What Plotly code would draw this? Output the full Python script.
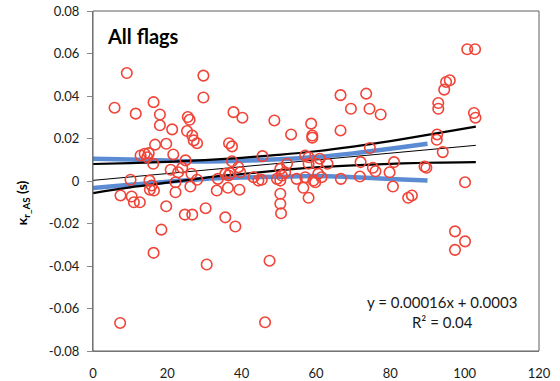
import plotly.graph_objects as go

# Observations: x value and kappa_r_AS (s)
obs_x = [
    5.8, 9.1, 16.3, 29.7, 29.7,
    100.7, 102.8, 95.0, 96.0, 94.5, 92.9, 92.9, 66.6, 73.5, 69.4, 74.4, 77.4,
    102.5, 102.9, 58.7, 59.0, 59.0, 53.3, 66.6,
    11.5, 18.0, 25.5, 26.0, 18.0, 21.3, 25.3, 26.7, 27.1, 28.0, 16.7, 19.7,
    13.9, 12.8, 15.0, 14.6, 21.6, 16.2, 24.9, 20.9, 24.0, 22.9, 26.5, 28.0,
    10.1, 15.2, 15.8, 15.3, 16.4, 22.2, 26.2, 22.2, 7.4, 10.4, 11.0, 12.6,
    19.7, 24.7, 26.7, 30.3, 18.4,
    37.8, 40.2, 48.8, 36.6, 37.4, 45.6, 37.4, 39.1, 36.9, 39.6, 35.6, 33.6,
    36.5, 43.2, 45.4, 44.5, 52.2, 50.4, 50.8, 49.5, 51.7, 54.8, 57.1, 59.3,
    60.6, 58.0, 60.2, 58.0, 57.1, 33.3, 36.3, 39.4, 50.4, 50.4, 50.4, 50.6,
    35.6, 38.3, 56.6, 58.0, 59.8,
    74.5, 72.0, 63.1, 61.0, 75.3, 76.0, 81.0, 79.8, 71.8, 66.7, 80.7, 89.2,
    89.7, 61.5,
    92.6, 92.5, 94.1, 100.1,
    16.3, 30.6, 47.5, 7.3, 46.3, 97.4, 100.1, 97.4, 84.8, 85.8,
]
obs_y = [
    0.0345, 0.0508, 0.0371, 0.0496, 0.0393,
    0.0620, 0.0620, 0.0466, 0.0474, 0.0430, 0.0367, 0.0340, 0.0404, 0.0411, 0.0340, 0.0340, 0.0313,
    0.0320, 0.0298, 0.0270, 0.0214, 0.0204, 0.0219, 0.0238,
    0.0317, 0.0313, 0.0301, 0.0288, 0.0262, 0.0243, 0.0235, 0.0214, 0.0191, 0.0178, 0.0171, 0.0175,
    0.0128, 0.0120, 0.0131, 0.0112, 0.0125, 0.0081, 0.0097, 0.0053, 0.0062, 0.0041, 0.0034, 0.0006,
    0.0006, 0.0002, -0.0021, -0.0041, -0.0045, -0.0006, -0.0026, -0.0053, -0.0068, -0.0073, -0.0100, -0.0100,
    -0.0119, -0.0158, -0.0158, -0.0128, -0.0229,
    0.0324, 0.0298, 0.0285, 0.0178, 0.0163, 0.0117, 0.0093, 0.0065, 0.0037, 0.0041, 0.0034, 0.0010,
    0.0026, 0.0018, 0.0006, 0.0002, 0.0081, 0.0057, 0.0026, 0.0010, 0.0041, 0.0010, 0.0018, 0.0002,
    0.0034, 0.0081, 0.0081, 0.0112, 0.0120, -0.0045, -0.0032, -0.0041, 0.0002, -0.0060, -0.0107, -0.0152,
    -0.0171, -0.0214, -0.0032, -0.0079, -0.0006,
    0.0155, 0.0089, 0.0081, 0.0105, 0.0062, 0.0046, 0.0089, 0.0041, 0.0021, 0.0010, -0.0026, 0.0068,
    0.0062, 0.0018,
    0.0219, 0.0194, 0.0136, -0.0006,
    -0.0338, -0.0393, -0.0375, -0.0668, -0.0665, -0.0237, -0.0284, -0.0324, -0.0079, -0.0068,
]

# Linear fit shown in the equation box
slope = 0.00016
intercept = 0.0003
r_squared = 0.04
fit_x = [0, 103]

# Black confidence band around the fit
band_x = [0, 10, 20, 30, 40, 50, 60, 70, 80, 90, 103]
band_upper = [0.0080, 0.0084, 0.0090, 0.0098, 0.0109, 0.0123, 0.0140, 0.0162, 0.0188, 0.0217, 0.0256]
band_lower = [-0.0057, -0.0030, -0.0008, 0.0015, 0.0033, 0.0050, 0.0064, 0.0074, 0.0081, 0.0086, 0.0089]

# Blue smoothed envelope
smooth_x = [0, 10, 20, 30, 40, 50, 60, 70, 80, 90]
smooth_upper = [0.0105, 0.0101, 0.0096, 0.0092, 0.0095, 0.0102, 0.0113, 0.0130, 0.0152, 0.0175]
smooth_lower = [-0.0033, -0.0018, -0.0004, 0.0010, 0.0016, 0.0020, 0.0024, 0.0018, 0.0010, 0.0002]

x_ticks = [0, 20, 40, 60, 80, 100, 120]
x_ticktext = ["0", "20", "40", "60", "80", "100", "120"]
y_ticks = [-0.08, -0.06, -0.04, -0.02, 0, 0.02, 0.04, 0.06, 0.08]
y_ticktext = ["-0.08", "-0.06", "-0.04", "-0.02", "0", "0.02", "0.04", "0.06", "0.08"]

title_text = "All flags"
y_title = "κ<sub>r_AS</sub> (s)"

FONT = "Lato"
RED = "#f04438"
BLUE = "#5b8cd3"

fig = go.Figure()

for yy in (smooth_upper, smooth_lower):
    fig.add_trace(go.Scatter(x=smooth_x, y=yy, mode="lines",
                             line=dict(color=BLUE, width=4.5, shape="spline"),
                             hoverinfo="skip", showlegend=False))

for yy in (band_upper, band_lower):
    fig.add_trace(go.Scatter(x=band_x, y=yy, mode="lines",
                             line=dict(color="black", width=2.2, shape="spline"),
                             hoverinfo="skip", showlegend=False))

fit_y = [slope * v + intercept for v in fit_x]
fig.add_trace(go.Scatter(x=fit_x, y=fit_y, mode="lines",
                         line=dict(color="black", width=1),
                         hoverinfo="skip", showlegend=False))

fig.add_trace(go.Scatter(x=obs_x, y=obs_y, mode="markers",
                         marker=dict(symbol="circle-open", size=10.5,
                                     color=RED, line=dict(color=RED, width=1.6)),
                         showlegend=False))

fig.update_layout(
    width=560, height=381,
    margin=dict(l=93, r=21, t=11, b=30),
    paper_bgcolor="white", plot_bgcolor="white",
    font=dict(family=FONT, size=13, color="#1a1a1a"),
    xaxis=dict(range=[0, 120], tickvals=x_ticks, ticktext=x_ticktext,
               showgrid=False, zeroline=False, showline=True, automargin=False,
               linecolor="#8a8a8a", linewidth=1, ticks="",
               ticklabelstandoff=10, tickfont=dict(family=FONT, size=13)),
    xaxis2=dict(range=[0, 120], overlaying="x", anchor="free", position=0.5,
                tickvals=x_ticks, showticklabels=False, ticks="outside",
                ticklen=4, tickcolor="black", tickwidth=1, automargin=False,
                showline=True, linecolor="black", linewidth=1,
                showgrid=False, zeroline=False),
    yaxis=dict(range=[-0.08, 0.08], tickvals=y_ticks, ticktext=y_ticktext,
               showgrid=False, zeroline=False, showline=True, automargin=False,
               linecolor="#8a8a8a", linewidth=1, ticks="outside",
               ticklen=5, tickcolor="#8a8a8a", ticklabelstandoff=5,
               tickfont=dict(family=FONT, size=13)),
    shapes=[dict(type="rect", xref="paper", yref="paper", x0=0, x1=1, y0=0, y1=1,
                 line=dict(color="#5e5e5e", width=1), layer="above")],
    annotations=[
        dict(text=f"<b>{title_text}</b>", xref="paper", yref="paper",
             x=0.027, y=0.926, xanchor="left", yanchor="middle", showarrow=False,
             font=dict(family=FONT, size=20, color="black")),
        dict(text=f"y = {slope:.5f}x + {intercept:.4f}<br>R² = {r_squared:.2f}",
             xref="paper", yref="paper", x=0.7825, y=0.114,
             xanchor="center", yanchor="middle", showarrow=False, align="center",
             font=dict(family=FONT, size=15, color="#1a1a1a")),
        dict(text=f"<b>{y_title}</b>", xref="paper", yref="paper",
             x=-0.159, y=0.435, xanchor="center", yanchor="middle",
             textangle=-90, showarrow=False,
             font=dict(family=FONT, size=14, color="black")),
    ],
)

fig.write_html("out.html")
